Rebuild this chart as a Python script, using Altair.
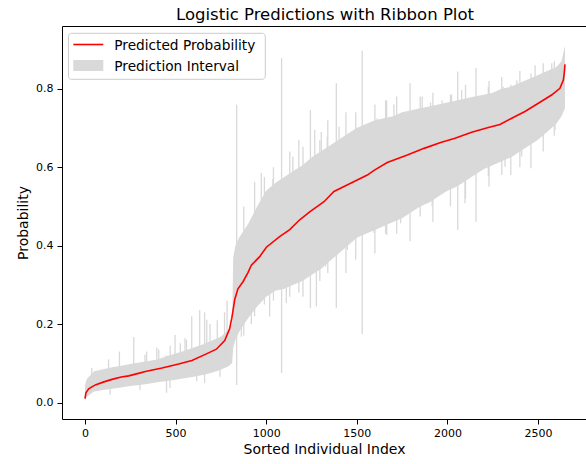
import altair as alt
import pandas as pd

# ---- predicted probability (red line) ----
mean_idx = [0, 5, 20, 57, 100, 149, 200, 241, 300, 333, 425, 517, 590, 670, 725,
            771, 798, 810, 817, 826, 844, 872, 900, 918, 964, 1001, 1074, 1130,
            1185, 1240, 1319, 1374, 1466, 1558, 1595, 1668, 1779, 1871, 1963,
            2042, 2134, 2226, 2290, 2355, 2428, 2502, 2575, 2621, 2640, 2645, 2649]
mean_p = [0.010, 0.025, 0.035, 0.045, 0.052, 0.059, 0.065, 0.068, 0.075, 0.079,
          0.088, 0.098, 0.107, 0.124, 0.136, 0.158, 0.188, 0.215, 0.235, 0.262,
          0.290, 0.308, 0.332, 0.350, 0.372, 0.396, 0.423, 0.441, 0.466, 0.486,
          0.512, 0.538, 0.559, 0.580, 0.592, 0.612, 0.631, 0.648, 0.663, 0.674,
          0.689, 0.701, 0.709, 0.725, 0.742, 0.763, 0.784, 0.801, 0.822, 0.840,
          0.862]

# ---- prediction interval envelope ----
band_idx = [0, 10, 50, 100, 150, 200, 250, 300, 350, 400, 450, 500, 550, 600, 650,
            700, 750, 790, 812, 818, 830, 850, 900, 950, 1000, 1050, 1100, 1150,
            1200, 1250, 1300, 1350, 1400, 1450, 1500, 1550, 1600, 1650, 1700, 1750,
            1800, 1850, 1900, 1950, 2000, 2050, 2100, 2150, 2200, 2250, 2300, 2350,
            2400, 2450, 2500, 2550, 2600, 2630, 2649]
band_lo = [0.004, 0.015, 0.028, 0.032, 0.035, 0.038, 0.042, 0.045, 0.048, 0.052,
           0.055, 0.058, 0.062, 0.066, 0.070, 0.076, 0.084, 0.092, 0.100, 0.140,
           0.160, 0.180, 0.215, 0.245, 0.270, 0.285, 0.290, 0.300, 0.310, 0.325,
           0.340, 0.360, 0.380, 0.400, 0.420, 0.430, 0.440, 0.450, 0.460, 0.470,
           0.485, 0.500, 0.510, 0.525, 0.540, 0.550, 0.565, 0.580, 0.595, 0.605,
           0.615, 0.625, 0.640, 0.655, 0.670, 0.690, 0.710, 0.730, 0.750]
band_hi = [0.045, 0.060, 0.080, 0.085, 0.090, 0.094, 0.098, 0.102, 0.106, 0.110,
           0.118, 0.125, 0.132, 0.140, 0.148, 0.158, 0.168, 0.185, 0.200, 0.370,
           0.400, 0.420, 0.455, 0.500, 0.540, 0.560, 0.575, 0.590, 0.605, 0.625,
           0.640, 0.655, 0.670, 0.685, 0.700, 0.710, 0.720, 0.725, 0.730, 0.740,
           0.745, 0.750, 0.755, 0.760, 0.765, 0.770, 0.775, 0.780, 0.785, 0.790,
           0.800, 0.805, 0.815, 0.825, 0.835, 0.845, 0.855, 0.870, 0.910]

# ---- individual intervals that stick out of the envelope ----
spike_idx = [37, 130, 138, 190, 269, 303, 331, 340, 396, 407, 450, 469, 470, 497,
             526, 552, 560, 589, 616, 633, 660, 672, 690, 730, 745, 770, 784, 837,
             863, 876, 918, 936, 973, 990, 1019, 1037, 1040, 1085, 1111, 1130, 1147,
             1180, 1203, 1244, 1268, 1277, 1296, 1304, 1328, 1337, 1340, 1387, 1402,
             1440, 1448, 1494, 1530, 1595, 1600, 1613, 1659, 1665, 1705, 1720, 1742,
             1794, 1850, 1861, 1907, 1916, 1920, 1971, 2017, 2023, 2057, 2079, 2097,
             2100, 2158, 2226, 2230, 2300, 2309, 2318, 2350, 2383, 2400, 2410, 2461,
             2484, 2529, 2576, 2590, 2594, 2612]
spike_lo = [0.040, 0.040, 0.020, 0.040, 0.050, 0.032, 0.070, 0.050, 0.070, 0.055,
            0.025, 0.037, 0.060, 0.060, 0.060, 0.090, 0.065, 0.070, 0.054, 0.070,
            0.050, 0.110, 0.080, 0.080, 0.066, 0.090, 0.095, 0.045, 0.168, 0.170,
            0.200, 0.220, 0.350, 0.250, 0.219, 0.400, 0.260, 0.075, 0.254, 0.270,
            0.450, 0.280, 0.270, 0.241, 0.500, 0.245, 0.310, 0.500, 0.347, 0.520,
            0.330, 0.241, 0.540, 0.330, 0.389, 0.364, 0.175, 0.432, 0.380, 0.590,
            0.430, 0.427, 0.610, 0.430, 0.457, 0.411, 0.474, 0.650, 0.650, 0.500,
            0.460, 0.660, 0.500, 0.670, 0.440, 0.680, 0.508, 0.520, 0.461, 0.576,
            0.550, 0.580, 0.710, 0.601, 0.580, 0.730, 0.600, 0.627, 0.597, 0.760,
            0.640, 0.780, 0.680, 0.695, 0.800]
spike_hi = [0.088, 0.110, 0.060, 0.130, 0.167, 0.070, 0.122, 0.130, 0.140, 0.135,
            0.120, 0.090, 0.145, 0.172, 0.151, 0.164, 0.160, 0.220, 0.110, 0.236,
            0.230, 0.211, 0.200, 0.210, 0.140, 0.230, 0.260, 0.759, 0.300, 0.500,
            0.340, 0.563, 0.585, 0.575, 0.390, 0.570, 0.600, 0.878, 0.420, 0.640,
            0.627, 0.670, 0.652, 0.746, 0.695, 0.480, 0.669, 0.690, 0.510, 0.678,
            0.720, 0.814, 0.703, 0.740, 0.560, 0.740, 0.897, 0.580, 0.760, 0.725,
            0.771, 0.770, 0.760, 0.780, 0.620, 0.814, 0.780, 0.780, 0.765, 0.640,
            0.790, 0.770, 0.785, 0.785, 0.844, 0.797, 0.680, 0.810, 0.853, 0.805,
            0.820, 0.830, 0.805, 0.709, 0.810, 0.822, 0.845, 0.742, 0.839, 0.860,
            0.865, 0.865, 0.870, 0.784, 0.855]

x_ticks = [0, 500, 1000, 1500, 2000, 2500]
y_ticks = [0.0, 0.2, 0.4, 0.6, 0.8]

title_text = "Logistic Predictions with Ribbon Plot"
legend_labels = ["Predicted Probability", "Prediction Interval"]

FONT = "DejaVu Sans"
GRAY = "#d9d9d9"

mean_df = pd.DataFrame({"idx": mean_idx, "p": mean_p})
band_df = pd.DataFrame({"idx": band_idx, "lo": band_lo, "hi": band_hi})
spike_df = pd.DataFrame({"idx": spike_idx, "lo": spike_lo, "hi": spike_hi})

xscale = alt.Scale(domain=[-127, 2765], nice=False, zero=False)
yscale = alt.Scale(domain=[-0.042, 0.96], nice=False, zero=False)

xax = alt.Axis(values=x_ticks, format="d", title="Sorted Individual Index",
               tickSize=5, labelPadding=3, titlePadding=4, grid=False, domain=False)
yax = alt.Axis(values=y_ticks, format=".1f", title="Probability",
               tickSize=5, labelPadding=4, titlePadding=5, grid=False, domain=False)

area = alt.Chart(band_df).mark_area(color=GRAY, opacity=1).encode(
    x=alt.X("idx:Q", scale=xscale, axis=xax),
    y=alt.Y("lo:Q", scale=yscale, axis=yax),
    y2="hi:Q",
)

spikes = alt.Chart(spike_df).mark_rule(color=GRAY, strokeWidth=1.3).encode(
    x=alt.X("idx:Q", scale=xscale),
    y=alt.Y("lo:Q", scale=yscale),
    y2="hi:Q",
)

line = alt.Chart(mean_df).mark_line(color="red", strokeWidth=1.6).encode(
    x=alt.X("idx:Q", scale=xscale),
    y=alt.Y("p:Q", scale=yscale),
)

one = pd.DataFrame({"a": [0]})

legend_box = alt.Chart(one).mark_rect(
    fill="white", fillOpacity=0.8, stroke="#cccccc", strokeWidth=1, cornerRadius=3
).encode(x=alt.value(6.5), x2=alt.value(203.3), y=alt.value(7.3), y2=alt.value(53.3))

legend_line = alt.Chart(one).mark_rule(color="red", strokeWidth=1.6).encode(
    x=alt.value(11.3), x2=alt.value(41.3), y=alt.value(18.5)
)

legend_patch = alt.Chart(one).mark_rect(color=GRAY).encode(
    x=alt.value(11.3), x2=alt.value(41.3), y=alt.value(34), y2=alt.value(45)
)

legend_t1 = alt.Chart(one).mark_text(
    font=FONT, fontSize=13.7, align="left", baseline="alphabetic", color="black"
).encode(x=alt.value(52.3), y=alt.value(24), text=alt.value(legend_labels[0]))

legend_t2 = alt.Chart(one).mark_text(
    font=FONT, fontSize=13.7, align="left", baseline="alphabetic", color="black"
).encode(x=alt.value(52.3), y=alt.value(44.7), text=alt.value(legend_labels[1]))

title = alt.Chart(one).mark_text(
    font=FONT, fontSize=16.5, align="center", baseline="alphabetic", color="black"
).encode(x=alt.value(263), y=alt.value(-6.5), text=alt.value(title_text))

chart = alt.layer(
    area, spikes, line, legend_box, legend_patch, legend_line, legend_t1, legend_t2, title
).properties(
    width=524,
    height=393,
    padding={"left": 62, "top": 26, "right": 0, "bottom": 45},
    autosize=alt.AutoSizeParams(type="none"),
    background="white",
).configure_view(
    stroke="black", strokeWidth=1
).configure_axis(
    grid=False, domain=False, tickColor="black", tickWidth=1,
    labelFont=FONT, labelFontSize=11, labelColor="black",
    titleFont=FONT, titleFontSize=14, titleFontWeight="normal", titleColor="black",
)

chart.save("out.html", embed_options={"renderer": "svg", "actions": False})
